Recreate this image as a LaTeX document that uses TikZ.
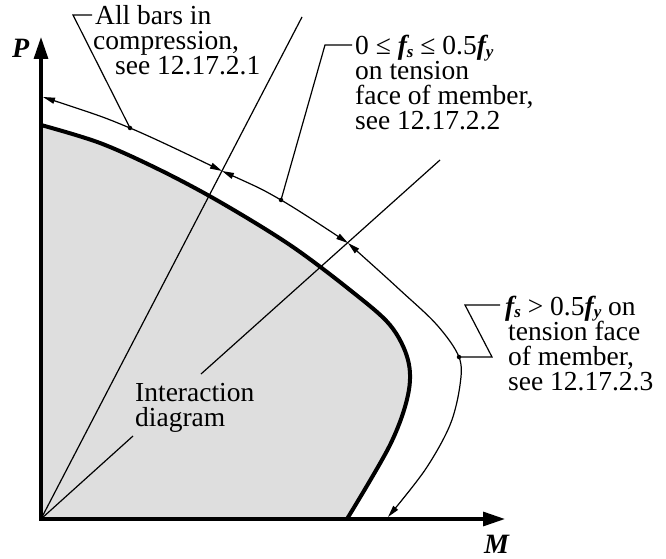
\documentclass[tikz,border=0pt]{standalone}
\usepackage{fontspec}
\setmainfont{Liberation Serif}
\usetikzlibrary{arrows.meta}
\newcommand\bif[1]{{\bfseries\itshape #1}}
\newcommand\subx[1]{\raisebox{-0.1em}{\fontsize{17}{17}\selectfont\bfseries\itshape #1}}
\newcommand\txtlines[1]{\vtop{\baselineskip=25pt\lineskiplimit=-100pt\lineskip=0pt #1}}
\definecolor{fillgray}{RGB}{222,222,222}
\begin{document}
\begin{tikzpicture}[x=1pt,y=-1pt,
  lbl/.style={font=\fontsize{27.5}{25}\selectfont, anchor=base west, inner sep=0pt},
  axislbl/.style={font=\fontsize{28}{28}\selectfont\bfseries\itshape, anchor=base west, inner sep=0pt},
  axisline/.style={line width=3.2pt, line join=miter, {Triangle[length=22pt,width=14pt]}-{Triangle[length=22pt,width=14pt]}},
  boundary/.style={line width=4pt},
  thinline/.style={line width=1.2pt},
  dimarrow/.style={thinline, {Triangle[length=12pt,width=6pt]}-{Triangle[length=12pt,width=6pt]}},
  dotmark/.style={circle, fill=black, inner sep=0pt, minimum size=4.5pt},
]
\useasboundingbox (0,0) rectangle (666,559);
% key points
\coordinate (O) at (41,519);
\coordinate (Ptip) at (41,37);
\coordinate (Mtip) at (505,519);
\coordinate (R1) at (302,17);
\coordinate (R2a) at (133,436);
\coordinate (R2b) at (201,374);
\coordinate (R2c) at (440,160);
% shaded interaction region
\fill[fillgray] (O) -- plot[smooth, tension=0.55] coordinates {(41,125) (100,143) (160,170) (220,202) (290,245) (350,290) (390,325) (408,360) (408,395) (390,445) (347,519)} -- cycle;
\draw[boundary] plot[smooth, tension=0.55] coordinates {(41,125) (100,143) (160,170) (220,202) (290,245) (350,290) (390,325) (408,360) (408,395) (390,445) (347,519)};
% axes
\draw[axisline] (Ptip) -- (O) -- (Mtip);
% radial lines
\draw[thinline] (O) -- (R1);
\draw[thinline] (O) -- (R2a);
\draw[thinline] (R2b) -- (R2c);
% outer curve with arrows
\draw[dimarrow] plot[smooth, tension=0.55] coordinates {(43,97) (130,128) (222,171)};
\draw[dimarrow] plot[smooth, tension=0.55] coordinates {(222,171) (281,200) (348,243)};
\draw[dimarrow] plot[smooth, tension=0.55] coordinates {(348,243) (400,290) (437,325) (459,357) (460,385) (450,425) (425,470) (388,517)};
% dots
\node[dotmark] (d1) at (130,128) {};
\node[dotmark] (d2) at (281,200) {};
\node[dotmark] (d3) at (459,357) {};
% leaders
\coordinate (L1a) at (73,15);
\coordinate (L1b) at (92,15);
\coordinate (L2a) at (325,45);
\coordinate (L2b) at (352,45);
\coordinate (L3a) at (492,357);
\coordinate (L3b) at (465,305);
\coordinate (L3c) at (500,305);
\draw[thinline] (d1.center) -- (L1a) -- (L1b);
\draw[thinline] (d2.center) -- (L2a) -- (L2b);
\draw[thinline] (d3.center) -- (L3a) -- (L3b) -- (L3c);
% texts
\node[lbl] (t1) at (95,25) {\txtlines{\hbox{All bars in}\hbox{\hspace*{-2pt}compression,}\hbox{\hspace*{20pt}see 12.17.2.1}}};
\node[lbl] (t2) at (355,55) {\txtlines{\hbox{0 ≤ \bif{f}\subx{s} ≤ 0.5\bif{f}\subx{y}}\hbox{on tension}\hbox{face of member,}\hbox{see 12.17.2.2}}};
\node[lbl] (t3) at (505,315) {\txtlines{\hbox{\bif{f}\subx{s} > 0.5\bif{f}\subx{y} on}\hbox{\hspace*{3pt}tension face}\hbox{\hspace*{3pt}of member,}\hbox{\hspace*{3pt}see 12.17.2.3}}};
\node[lbl] (t4) at (135,401) {\txtlines{\hbox{Interaction}\hbox{diagram}}};
\node[axislbl] (P) at (12,58) {P};
\node[axislbl] (M) at (484,553) {M};
\end{tikzpicture}
\end{document}
